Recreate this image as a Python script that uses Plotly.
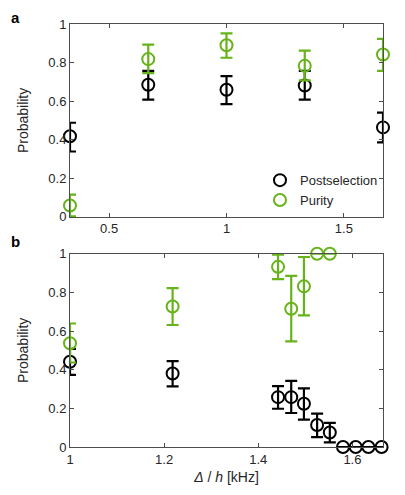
import plotly.graph_objects as go
from plotly.subplots import make_subplots

# panel a
a_x = [1/3, 2/3, 1.0, 4/3, 5/3]
a_post = [0.418, 0.685, 0.659, 0.681, 0.464]
a_post_up = [0.070, 0.072, 0.071, 0.076, 0.077]
a_post_dn = [0.079, 0.077, 0.074, 0.073, 0.078]
a_pur = [0.059, 0.818, 0.890, 0.783, 0.842]
a_pur_up = [0.056, 0.075, 0.061, 0.079, 0.081]
a_pur_dn = [0.056, 0.073, 0.065, 0.075, 0.085]

# panel b
b_x = [1.0, 1.218, 1.442, 1.470, 1.497, 1.525, 1.552, 1.580, 1.607, 1.634, 1.662]
b_post = [0.441, 0.380, 0.258, 0.258, 0.224, 0.114, 0.075, 0.0, 0.0, 0.0, 0.0]
b_post_up = [0.067, 0.064, 0.057, 0.084, 0.079, 0.059, 0.050, 0, 0, 0, 0]
b_post_dn = [0.068, 0.066, 0.060, 0.082, 0.082, 0.063, 0.051, 0, 0, 0, 0]
b_pur_x = [1.0, 1.218, 1.442, 1.470, 1.497, 1.525, 1.552]
b_pur = [0.537, 0.727, 0.932, 0.715, 0.831, 1.0, 1.0]
b_pur_up = [0.102, 0.095, 0.063, 0.170, 0.152, 0, 0]
b_pur_dn = [0.100, 0.096, 0.064, 0.169, 0.150, 0, 0]

a_xticks = [0.5, 1, 1.5]
a_xlabels = ["0.5", "1", "1.5"]
b_xticks = [1, 1.2, 1.4, 1.6]
b_xlabels = ["1", "1.2", "1.4", "1.6"]
yticks = [0, 0.2, 0.4, 0.6, 0.8, 1]
ylabels = ["0", "0.2", "0.4", "0.6", "0.8", "1"]

BLACK = "#000000"
GREEN = "#66b31a"
AXC = "#4d4d4d"
TXT = "#262626"

fig = make_subplots(rows=2, cols=1, vertical_spacing=0.0)


def add_series(x, y, up, dn, color, name, row, legend):
    fig.add_trace(go.Scatter(
        x=x, y=y, mode="markers", name=name, showlegend=legend,
        cliponaxis=False,
        marker=dict(symbol="circle-open", size=12, color=color, line=dict(width=2, color=color)),
        error_y=dict(type="data", symmetric=False, array=up, arrayminus=dn,
                     color=color, thickness=2.2, width=6),
    ), row=row, col=1)


add_series(a_x, a_post, a_post_up, a_post_dn, BLACK, "Postselection", 1, True)
add_series(a_x, a_pur, a_pur_up, a_pur_dn, GREEN, "Purity", 1, True)
add_series(b_x, b_post, b_post_up, b_post_dn, BLACK, "Postselection", 2, False)
add_series(b_pur_x, b_pur, b_pur_up, b_pur_dn, GREEN, "Purity", 2, False)

axis_style = dict(showline=True, mirror="ticks", linecolor=AXC, linewidth=1,
                  ticks="inside", ticklen=4, tickcolor=AXC, showgrid=False,
                  zeroline=False, tickfont=dict(size=13, color=TXT))

fig.update_xaxes(axis_style)
fig.update_yaxes(axis_style)

fig.update_xaxes(range=[1/3, 5/3], tickvals=a_xticks, ticktext=a_xlabels,
                 domain=[0, 1], row=1, col=1)
fig.update_xaxes(range=[1, 1.665], tickvals=b_xticks, ticktext=b_xlabels,
                 title=dict(text="<i>Δ</i> / <i>h</i> [kHz]", font=dict(size=14, color=TXT), standoff=6),
                 row=2, col=1)
fig.update_yaxes(range=[0, 1], tickvals=yticks, ticktext=ylabels,
                 title=dict(text="Probability", font=dict(size=14, color=TXT), standoff=16))
fig.update_yaxes(domain=[0.544, 1], row=1, col=1)
fig.update_yaxes(domain=[0, 0.457], row=2, col=1)

fig.add_annotation(text="<b>a</b>", x=-0.196, y=1.016, xref="paper", yref="paper",
                   showarrow=False, font=dict(size=15, color="black"), xanchor="left", yanchor="middle")
fig.add_annotation(text="<b>b</b>", x=-0.196, y=0.485, xref="paper", yref="paper",
                   showarrow=False, font=dict(size=15, color="black"), xanchor="left", yanchor="middle")

# page body adds an 8px offset, so the figure is sized to fill the rest of the window
fig.update_layout(
    width=397, height=487,
    margin=dict(l=62, r=22, t=9, b=48),
    paper_bgcolor="white", plot_bgcolor="white",
    font=dict(family="Liberation Sans, Arial, sans-serif", color=TXT),
    legend=dict(x=0.607, y=0.548, xref="paper", yref="paper", xanchor="left", yanchor="bottom",
                bgcolor="rgba(0,0,0,0)", font=dict(size=13, color=TXT),
                itemwidth=30, tracegroupgap=0),
)

fig.write_html("out.html")
